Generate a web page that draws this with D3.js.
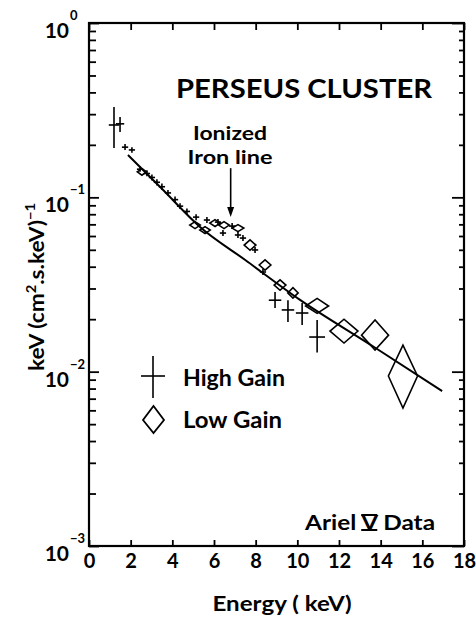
<!DOCTYPE html>
<html>
<head>
<meta charset="utf-8">
<script src="https://cdn.jsdelivr.net/npm/d3@7"></script>
<style>
  body { margin: 0; background: #fff; }
  svg text { font-family: Lato, "Open Sans", sans-serif; font-weight: 700; fill: #000; }
</style>
</head>
<body>
<div id="graph"></div>
<script>
document.addEventListener("DOMContentLoaded", function() {
  "use strict";

  //---------------------------------------------------
  /* data */
  // high gain: [energy keV, flux, half bin width keV, flux low, flux high]
  const highGain = [
    [1.20, 0.260, 0.25, 0.192, 0.330],
    [1.49, 0.264, 0.20, 0.237, 0.289],
    [1.73, 0.194, 0.15, 0.187, 0.202],
    [2.06, 0.187, 0.15, 0.180, 0.194],
    [2.45, 0.145, 0.15, 0.140, 0.151],
    [2.78, 0.137, 0.15, 0.132, 0.143],
    [3.02, 0.130, 0.15, 0.125, 0.135],
    [3.26, 0.122, 0.15, 0.117, 0.127],
    [3.50, 0.115, 0.15, 0.110, 0.120],
    [3.79, 0.106, 0.15, 0.102, 0.110],
    [4.13, 0.097, 0.15, 0.093, 0.101],
    [4.37, 0.089, 0.15, 0.0856, 0.0926],
    [4.70, 0.083, 0.15, 0.0798, 0.0864],
    [5.14, 0.077, 0.15, 0.0740, 0.0801],
    [5.66, 0.0741, 0.15, 0.0712, 0.0771],
    [6.19, 0.0721, 0.15, 0.0693, 0.0750],
    [6.43, 0.0624, 0.15, 0.0600, 0.0650],
    [6.87, 0.0684, 0.15, 0.0658, 0.0712],
    [7.15, 0.0608, 0.15, 0.0585, 0.0633],
    [7.39, 0.0584, 0.15, 0.0561, 0.0608],
    [7.97, 0.0499, 0.15, 0.0480, 0.0519],
    [8.35, 0.0373, 0.15, 0.0359, 0.0388],
    [8.93, 0.0257, 0.30, 0.0232, 0.0286],
    [9.55, 0.0226, 0.30, 0.0193, 0.0257],
    [10.23, 0.0217, 0.30, 0.0185, 0.0248],
    [10.95, 0.0158, 0.38, 0.0129, 0.0198]
  ];

  // low gain: [energy keV, flux, half bin width keV, flux low, flux high]
  const lowGain = [
    [2.54, 0.140, 0.22, 0.134, 0.146],
    [5.09, 0.0693, 0.25, 0.0662, 0.0725],
    [5.57, 0.0649, 0.25, 0.0620, 0.0679],
    [6.05, 0.0712, 0.25, 0.0680, 0.0745],
    [6.48, 0.0693, 0.25, 0.0662, 0.0725],
    [7.15, 0.0666, 0.28, 0.0636, 0.0697],
    [7.73, 0.0532, 0.28, 0.0497, 0.0570],
    [8.45, 0.0409, 0.28, 0.0382, 0.0438],
    [9.17, 0.0314, 0.28, 0.0293, 0.0336],
    [9.79, 0.0283, 0.25, 0.0264, 0.0303],
    [10.95, 0.0238, 0.55, 0.0216, 0.0263],
    [12.24, 0.0171, 0.67, 0.0146, 0.0200],
    [13.73, 0.0162, 0.65, 0.0133, 0.0198],
    [15.07, 0.00944, 0.70, 0.00618, 0.0142]
  ];

  // fitted spectrum: [energy keV, flux]
  const fitLine = [
    [1.87, 0.175], [3.5, 0.112], [5.33, 0.0676], [7.5, 0.0437],
    [10.13, 0.0258], [13.7, 0.0138], [16.95, 0.00774]
  ];

  const xTickValues = [0, 2, 4, 6, 8, 10, 12, 14, 16, 18];
  const yDecades = [1, 0.1, 0.01, 0.001];
  const yDecadeLabels = ["0", "\u22121", "\u22122", "\u22123"];

  // iron line arrow: energy, from flux, to flux
  const ironArrow = [6.8, 0.147, 0.077];

  //---------------------------------------------------
  /* sizes */
  const w = 476;
  const h = 617;
  const left = 89, right = 464, top = 23, bottom = 546;

  const svg = d3.select("#graph")
    .append("svg")
    .attr("width", w)
    .attr("height", h);

  const xScale = d3.scaleLinear().domain([0, 18]).range([left, right]);
  const yScale = d3.scaleLog().domain([1e-3, 1]).range([bottom, top]);

  //---------------------------------------------------
  /* axes: ticks all pointing inward */
  const minorTicks = [];
  yDecades.slice(1).forEach(function(d) {
    for (let k = 1; k <= 9; k++) minorTicks.push(d * k);
  });
  minorTicks.push(1);
  const isMajor = v => yDecades.some(d => Math.abs(v / d - 1) < 1e-6);

  const leftAxis = svg.append("g")
    .attr("transform", `translate(${left},0)`)
    .call(d3.axisLeft(yScale).tickValues(minorTicks).tickSizeInner(-7).tickSizeOuter(0).tickFormat(""));
  leftAxis.selectAll(".tick line").filter(isMajor).attr("x2", 10);

  const rightAxis = svg.append("g")
    .attr("transform", `translate(${right},0)`)
    .call(d3.axisRight(yScale).tickValues(minorTicks).tickSizeInner(-5).tickSizeOuter(0).tickFormat(""));
  rightAxis.selectAll(".tick line").filter(isMajor).attr("x2", -12);

  const bottomAxis = svg.append("g")
    .attr("transform", `translate(0,${bottom})`)
    .call(d3.axisBottom(xScale).tickValues(xTickValues).tickSizeInner(-6).tickSizeOuter(0));

  svg.append("g")
    .attr("transform", `translate(0,${top})`)
    .call(d3.axisTop(xScale).tickValues(xTickValues).tickSizeInner(-7).tickSizeOuter(0).tickFormat(""));

  svg.selectAll(".domain").remove();
  svg.selectAll(".tick line").attr("stroke", "#000").attr("stroke-width", 1.8);

  bottomAxis.selectAll(".tick text")
    .attr("dy", null)
    .attr("y", 22)
    .style("font-size", "20px")
    .style("font-family", "Lato, sans-serif")
    .style("font-weight", 700);

  svg.append("rect")
    .attr("x", left).attr("y", top)
    .attr("width", right - left).attr("height", bottom - top)
    .attr("fill", "none").attr("stroke", "#000").attr("stroke-width", 2.2);

  /* y labels as 10 with exponent */
  yDecades.forEach(function(d, i) {
    svg.append("text")
      .attr("x", 69)
      .attr("y", yScale(d) + 15)
      .attr("text-anchor", "end")
      .style("font-size", "21px")
      .text("10");
    svg.append("text")
      .attr("x", 70)
      .attr("y", yScale(d) - 3)
      .style("font-size", "13px")
      .text(yDecadeLabels[i]);
  });

  //---------------------------------------------------
  /* axis titles */
  svg.append("text")
    .attr("x", 282).attr("y", 611)
    .attr("text-anchor", "middle")
    .style("font-size", "20px")
    .attr("textLength", 139)
    .attr("lengthAdjust", "spacingAndGlyphs")
    .text("Energy ( keV)");

  const yTitle = svg.append("text")
    .attr("transform", "translate(44,287) rotate(-90)")
    .attr("text-anchor", "middle")
    .style("font-size", "20px");
  yTitle.append("tspan").text("keV (cm");
  yTitle.append("tspan").attr("dy", -8).style("font-size", "13px").text("2");
  yTitle.append("tspan").attr("dy", 8).text(".s.keV)");
  yTitle.append("tspan").attr("dy", -9).style("font-size", "13px").text("\u22121");
  yTitle.attr("textLength", 168).attr("lengthAdjust", "spacingAndGlyphs");

  //---------------------------------------------------
  /* fitted line */
  const line = d3.line()
    .x(d => xScale(d[0]))
    .y(d => yScale(d[1]))
    .curve(d3.curveMonotoneX);

  svg.append("path")
    .attr("d", line(fitLine))
    .attr("fill", "none")
    .attr("stroke", "#000")
    .attr("stroke-width", 2);

  //---------------------------------------------------
  /* high gain crosses */
  const crosses = svg.append("g")
    .attr("stroke", "#000")
    .attr("stroke-width", 1.6);
  crosses.selectAll(".v")
    .data(highGain).enter()
    .append("line")
    .attr("x1", d => xScale(d[0])).attr("x2", d => xScale(d[0]))
    .attr("y1", d => yScale(d[3])).attr("y2", d => yScale(d[4]));
  crosses.selectAll(".h")
    .data(highGain).enter()
    .append("line")
    .attr("x1", d => xScale(d[0] - d[2])).attr("x2", d => xScale(d[0] + d[2]))
    .attr("y1", d => yScale(d[1])).attr("y2", d => yScale(d[1]));

  /* low gain diamonds */
  const diamond = d => [
    [xScale(d[0] - d[2]), yScale(d[1])],
    [xScale(d[0]), yScale(d[3])],
    [xScale(d[0] + d[2]), yScale(d[1])],
    [xScale(d[0]), yScale(d[4])]
  ].join(" ");

  svg.append("g")
    .selectAll("polygon")
    .data(lowGain).enter()
    .append("polygon")
    .attr("points", diamond)
    .attr("fill", "none")
    .attr("stroke", "#000")
    .attr("stroke-width", 1.6);

  //---------------------------------------------------
  /* annotations */
  svg.append("text")
    .attr("x", 304).attr("y", 98)
    .attr("text-anchor", "middle")
    .style("font-size", "26px")
    .attr("textLength", 256)
    .attr("lengthAdjust", "spacingAndGlyphs")
    .text("PERSEUS CLUSTER");

  // two lines, kept just apart so their boxes do not touch
  svg.append("text")
    .attr("x", 230).attr("y", 140)
    .attr("text-anchor", "middle")
    .style("font-size", "19px")
    .attr("textLength", 74)
    .attr("lengthAdjust", "spacingAndGlyphs")
    .text("Ionized");
  svg.append("text")
    .attr("x", 230).attr("y", 164)
    .attr("text-anchor", "middle")
    .style("font-size", "19px")
    .attr("textLength", 85)
    .attr("lengthAdjust", "spacingAndGlyphs")
    .text("Iron line");

  const ax = xScale(ironArrow[0]);
  const ay1 = yScale(ironArrow[1]);
  const ay2 = yScale(ironArrow[2]);
  svg.append("line")
    .attr("x1", ax).attr("x2", ax)
    .attr("y1", ay1).attr("y2", ay2 - 4)
    .attr("stroke", "#000").attr("stroke-width", 1.6);
  svg.append("path")
    .attr("d", `M${ax - 3.5},${ay2 - 10} L${ax + 3.5},${ay2 - 10} L${ax},${ay2} Z`)
    .attr("fill", "#000");

  /* legend */
  svg.append("line")
    .attr("x1", 153).attr("x2", 153).attr("y1", 356).attr("y2", 398)
    .attr("stroke", "#000").attr("stroke-width", 1.6);
  svg.append("line")
    .attr("x1", 141).attr("x2", 165).attr("y1", 376).attr("y2", 376)
    .attr("stroke", "#000").attr("stroke-width", 1.6);
  svg.append("text")
    .attr("x", 183).attr("y", 386)
    .style("font-size", "22px")
    .attr("textLength", 102)
    .attr("lengthAdjust", "spacingAndGlyphs")
    .text("High Gain");

  svg.append("polygon")
    .attr("points", "143,420 153.5,433 164,420 153.5,406")
    .attr("fill", "none").attr("stroke", "#000").attr("stroke-width", 1.8);
  svg.append("text")
    .attr("x", 183).attr("y", 428)
    .style("font-size", "22px")
    .attr("textLength", 99)
    .attr("lengthAdjust", "spacingAndGlyphs")
    .text("Low Gain");

  const ariel = svg.append("text")
    .attr("x", 305).attr("y", 530)
    .style("font-size", "21px")
    .attr("textLength", 130)
    .attr("lengthAdjust", "spacingAndGlyphs")
    .text("Ariel V Data");
  const node = ariel.node();
  const v0 = node.getStartPositionOfChar(6).x;
  const v1 = node.getEndPositionOfChar(6).x;
  [515, 530].forEach(function(yy) {
    svg.append("line")
      .attr("x1", v0).attr("x2", v1)
      .attr("y1", yy).attr("y2", yy)
      .attr("stroke", "#000").attr("stroke-width", 2);
  });
});
</script>
</body>
</html>
